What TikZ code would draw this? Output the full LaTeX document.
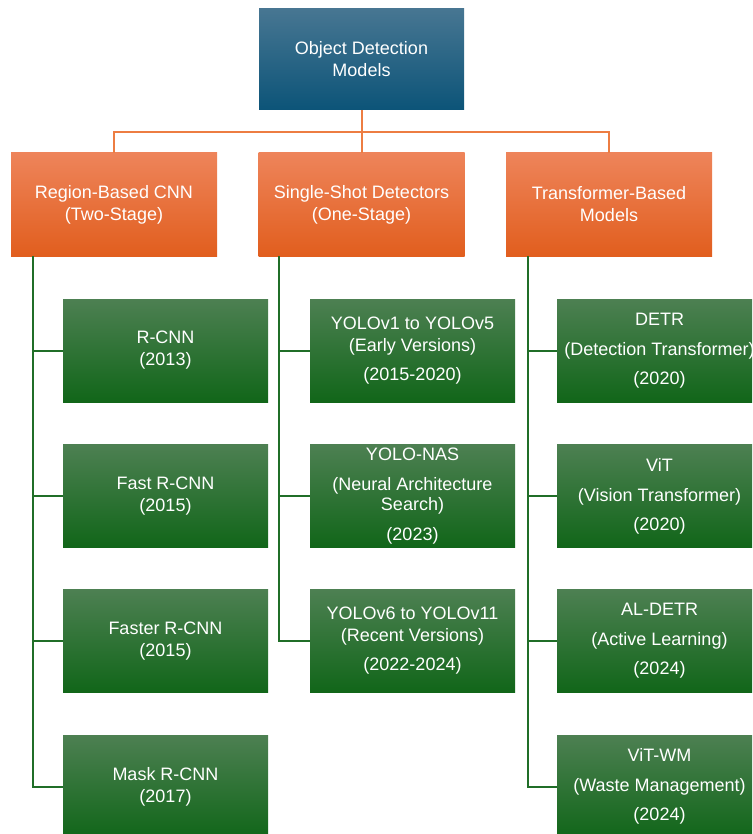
\documentclass[tikz,border=0pt]{standalone}
\usepackage{fontspec}
\setmainfont{Liberation Sans}
\definecolor{rootTop}{RGB}{71,118,146}
\definecolor{rootBottom}{RGB}{12,84,120}
\definecolor{familyTop}{RGB}{238,132,90}
\definecolor{familyBottom}{RGB}{225,94,30}
\definecolor{modelTop}{RGB}{77,128,82}
\definecolor{modelBottom}{RGB}{17,102,25}
\definecolor{familyLine}{RGB}{237,125,66}
\definecolor{modelLine}{RGB}{32,110,40}
\begin{document}
\begin{tikzpicture}[x=1pt, y=-1pt]
        \tikzstyle{box}=[rectangle, minimum width=205pt, minimum height=103pt, inner sep=0pt, align=center, text=white, font=\fontsize{18}{22}\selectfont]
        \tikzstyle{root}=[box, minimum height=101pt, top color=rootTop, bottom color=rootBottom]
        \tikzstyle{family}=[box, minimum width=206pt, top color=familyTop, bottom color=familyBottom]
        \tikzstyle{model}=[box, top color=modelTop, bottom color=modelBottom]
        \tikzstyle{branch}=[line width=2pt, draw=familyLine]
        \tikzstyle{leaf}=[line width=2pt, draw=modelLine]
        \useasboundingbox (0, 0) rectangle (752, 834);
        \clip (0, 0) rectangle (752, 834);
        % \draw[draw=black!20] (0, 0) grid (752, 834);
        \node[root] (models) at (361.5, 59.5) {Object Detection\\Models};

        \node[family] (region-cnn) at (114, 204.5) {Region-Based CNN\\(Two-Stage)};
        \node[family] (single-shot) at (361.5, 204.5) {Single-Shot Detectors\\(One-Stage)};
        \node[family] (transformer) at (609, 204.5) {Transformer-Based\\Models};

        \node[model] (r-cnn) at (165.5, 350.5) {R-CNN\\(2013)};
        \node[model] (fast-rcnn) at (165.5, 496) {Fast R-CNN\\(2015)};
        \node[model] (faster-rcnn) at (165.5, 641) {Faster R-CNN\\(2015)};
        \node[model] (mask-rcnn) at (165.5, 786.5) {Mask R-CNN\\(2017)};

        \node[model] (yolo-early) at (412.5, 350.5) {YOLOv1 to YOLOv5\\(Early Versions)\\[7pt](2015-2020)};
        \node[model] (yolo-nas) at (412.5, 496) {YOLO-NAS\\[8pt](Neural Architecture\\[-2pt]Search)\\[8pt](2023)};
        \node[model] (yolo-recent) at (412.5, 641) {YOLOv6 to YOLOv11\\(Recent Versions)\\[7pt](2022-2024)};

        \node[model] (detr) at (659.5, 350.5) {DETR\\[8pt](Detection Transformer)\\[7pt](2020)};
        \node[model] (vit) at (659.5, 496) {ViT\\[8pt](Vision Transformer)\\[7pt](2020)};
        \node[model] (al-detr) at (659.5, 641) {AL-DETR\\[8pt](Active Learning)\\[7pt](2024)};
        \node[model] (vit-wm) at (659.5, 786.5) {ViT-WM\\[8pt](Waste Management)\\[7pt](2024)};

        \draw[branch] (models.south) -- ++(0, 22) -| (region-cnn.north);
        \draw[branch] (models.south) -- (single-shot.north);
        \draw[branch] (models.south) -- ++(0, 22) -| (transformer.north);

        \draw[leaf] ([xshift=22pt]region-cnn.south west) |- (r-cnn.west);
        \draw[leaf] ([xshift=22pt]region-cnn.south west) |- (fast-rcnn.west);
        \draw[leaf] ([xshift=22pt]region-cnn.south west) |- (faster-rcnn.west);
        \draw[leaf] ([xshift=22pt]region-cnn.south west) |- (mask-rcnn.west);

        \draw[leaf] ([xshift=21pt]single-shot.south west) |- (yolo-early.west);
        \draw[leaf] ([xshift=21pt]single-shot.south west) |- (yolo-nas.west);
        \draw[leaf] ([xshift=21pt]single-shot.south west) |- (yolo-recent.west);

        \draw[leaf] ([xshift=22pt]transformer.south west) |- (detr.west);
        \draw[leaf] ([xshift=22pt]transformer.south west) |- (vit.west);
        \draw[leaf] ([xshift=22pt]transformer.south west) |- (al-detr.west);
        \draw[leaf] ([xshift=22pt]transformer.south west) |- (vit-wm.west);
    \end{tikzpicture}
\end{document}
